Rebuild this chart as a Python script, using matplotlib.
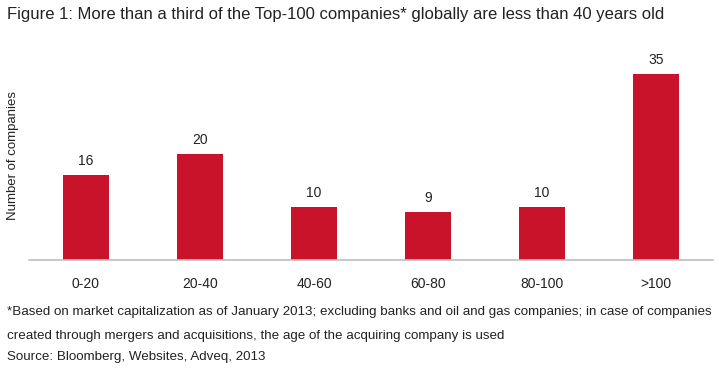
import matplotlib.pyplot as plt

plt.rcParams['font.family'] = ['Liberation Sans', 'DejaVu Sans']

categories = ["0-20", "20-40", "40-60", "60-80", "80-100", ">100"]
counts = [16, 20, 10, 9, 10, 35]

title = "Figure 1: More than a third of the Top-100 companies* globally are less than 40 years old"
note1 = ("*Based on market capitalization as of January 2013; excluding banks and oil and gas companies; "
         "in case of companies")
note2 = "created through mergers and acquisitions, the age of the acquiring company is used"
source = "Source: Bloomberg, Websites, Adveq, 2013"

fig = plt.figure(figsize=(7.19, 3.74), dpi=100)
ax = fig.add_axes([0.040, 0.305, 0.952, 0.548])

x = range(len(categories))
bars = ax.bar(x, counts, width=0.4, color='#C8132A')
for b, v in zip(bars, counts):
    ax.annotate(str(v), (b.get_x() + b.get_width() / 2, v), xytext=(0, 5),
                textcoords='offset points', ha='center', va='bottom',
                fontsize=10, color='#222222')

ax.set_xlim(-0.5, len(categories) - 0.5)
ax.set_ylim(0, 38.6)
ax.set_xticks(list(x))
ax.set_xticklabels(categories, fontsize=10, color='#222222')
ax.tick_params(axis='x', length=0, pad=12)
ax.set_yticks([])
for s in ['top', 'right', 'left']:
    ax.spines[s].set_visible(False)
ax.spines['bottom'].set_color('#BFBFBF')
ax.spines['bottom'].set_linewidth(1.2)

fig.text(13 / 719, 1 - 155 / 374, "Number of companies", rotation=90,
         ha='center', va='center', fontsize=9.5, color='#222222')
fig.text(7 / 719, 1 - 15 / 374, title, ha='left', va='center', fontsize=12, color='#222222')
fig.text(7 / 719, 1 - 312 / 374, note1, ha='left', va='center', fontsize=9.65, color='#222222')
fig.text(7 / 719, 1 - 336 / 374, note2, ha='left', va='center', fontsize=9.65, color='#222222')
fig.text(7 / 719, 1 - 357 / 374, source, ha='left', va='center', fontsize=9.65, color='#222222')

fig.savefig("out.png", dpi=100)
